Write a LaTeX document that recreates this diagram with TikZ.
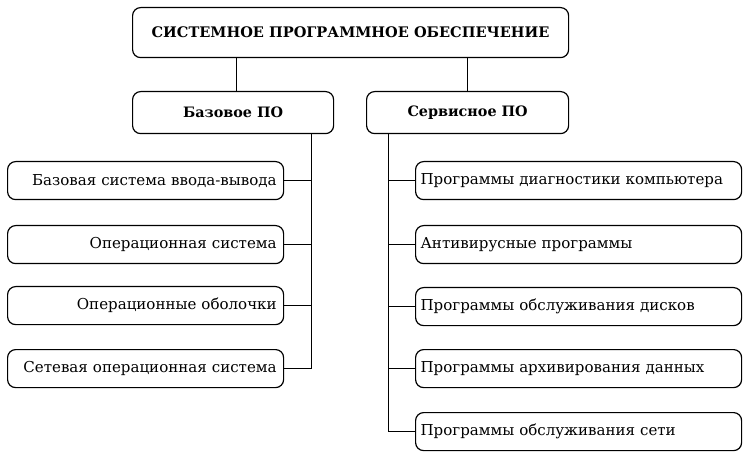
\documentclass[tikz,border=0pt]{standalone}
\usepackage{fontspec}
\setmainfont{DejaVu Serif}
\begin{document}
\begin{tikzpicture}[x=1bp,y=-1bp,
  box/.style={draw, line width=1.2bp, rounded corners=8bp, inner sep=0pt, anchor=north west},
  itemfont/.style={font=\fontsize{15.1}{18}\selectfont},
  leftitem/.style={box, itemfont, minimum width=276bp, minimum height=38bp, text width=262bp, align=right},
  rightitem/.style={box, itemfont, minimum width=326bp, minimum height=38bp, text width=316bp, align=left},
  conn/.style={line width=1.2bp}]
\useasboundingbox (0,0) rectangle (750,454);
% top level
\node[box, minimum width=436bp, minimum height=50bp, font=\bfseries\fontsize{14.6}{16}\selectfont] (top) at (132,7) {СИСТЕМНОЕ ПРОГРАММНОЕ ОБЕСПЕЧЕНИЕ};
% second level
\node[box, minimum width=201bp, minimum height=42bp, font=\bfseries\fontsize{14.4}{17}\selectfont] (base) at (132,91) {Базовое ПО};
\node[box, minimum width=202bp, minimum height=42bp, font=\bfseries\fontsize{14.4}{17}\selectfont] (serv) at (366,91) {Сервисное ПО};
% basic software
\node[leftitem] (l1) at (7,161) {Базовая система ввода-вывода};
\node[leftitem] (l2) at (7,225) {Операционная система};
\node[leftitem] (l3) at (7,286) {Операционные оболочки};
\node[leftitem] (l4) at (7,349) {Сетевая операционная система};
% service software
\node[rightitem] (r1) at (415,161) {Программы диагностики компьютера};
\node[rightitem] (r2) at (415,225) {Антивирусные программы};
\node[rightitem] (r3) at (415,287) {Программы обслуживания дисков};
\node[rightitem] (r4) at (415,349) {Программы архивирования данных};
\node[rightitem] (r5) at (415,412) {Программы обслуживания сети};
% connectors
\draw[conn] ([xshift=3.5bp]base.north) -- ([xshift=3.5bp]base.north |- top.south);
\draw[conn] (serv.north) -- (serv.north |- top.south);
\coordinate (lt) at ([xshift=78.5bp]base.south);
\coordinate (rt) at ([xshift=22.5bp]serv.south west);
\draw[conn] (lt) |- (l4.east);
\foreach \n in {l1,l2,l3} \draw[conn] (\n.east) -- (\n.east -| lt);
\draw[conn] (rt) |- (r5.west);
\foreach \n in {r1,r2,r3,r4} \draw[conn] (\n.west) -- (\n.west -| rt);
\end{tikzpicture}
\end{document}
